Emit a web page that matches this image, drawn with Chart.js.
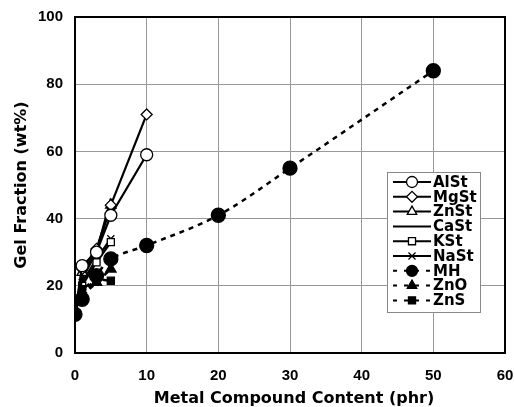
<!DOCTYPE html>
<html>
<head>
<meta charset="utf-8">
<script src="https://cdn.jsdelivr.net/npm/chart.js@4/dist/chart.umd.min.js"></script>
<style>
  html, body { margin: 0; padding: 0; background: #fff; }
  #wrap { width: 514px; height: 407px; }
</style>
</head>
<body>
<div id="wrap"><canvas id="gelChart"></canvas></div>
<script>
// x values (phr)
const xStearate = [0, 1, 3, 5, 10];
const xMH = [0, 1, 3, 5, 10, 20, 30, 50];
const xOxide = [0, 1, 3, 5];

// gel fraction (wt%)
const alSt = [11.5, 26, 30, 41, 59];
const mgSt = [11.5, 25, 31, 44, 71];
const znSt = [11.5, 24, 30, 44];
const caSt = [11.5, 22, 30, 46];
const kSt = [11.5, 20, 27, 33];
const naSt = [11.5, 21, 28, 34];
const mh = [11.5, 16, 23, 28, 32, 41, 55, 84];
const znO = [11.5, 17, 21, 25];
const znS = [11.5, 19, 22, 21.5];

const xTicks = [0, 10, 20, 30, 40, 50, 60];
const yTicks = [0, 20, 40, 60, 80, 100];

const FONT = '"Liberation Sans", Arial, sans-serif';
const TITLE_FONT = '"DejaVu Sans", sans-serif';

function pts(xs, ys) {
    return ys.map((y, i) => ({ x: xs[i], y: y }));
}

function series(label, xs, ys, style, radius, filled, dashed, order) {
    return {
        label: label,
        data: pts(xs, ys),
        order: order,
        borderColor: '#000',
        borderWidth: dashed ? 2.5 : 2.2,
        borderDash: dashed ? [5, 5] : [],
        pointStyle: style,
        pointRadius: radius,
        pointBorderWidth: 1.3,
        pointBorderColor: '#000',
        pointBackgroundColor: filled ? '#000' : '#fff',
        tension: label === 'MH' ? 0.35 : 0,
        fill: false
    };
}

// lower order is drawn on top: filled markers end up over the open ones at the origin
const datasets = [
    series('AlSt', xStearate, alSt, 'circle', 6, false, false, 3),
    series('MgSt', xStearate, mgSt, 'rectRot', 5.5, false, false, 4),
    series('ZnSt', xStearate, znSt, 'triangle', 6, false, false, 5),
    series('CaSt', xStearate, caSt, false, 0, false, false, 6),
    series('KSt', xStearate, kSt, 'rect', 5, false, false, 7),
    series('NaSt', xStearate, naSt, 'crossRot', 5, false, false, 8),
    series('MH', xMH, mh, 'circle', 7, true, true, 2),
    series('ZnO', xOxide, znO, 'triangle', 6, true, true, 1),
    series('ZnS', xOxide, znS, 'rect', 5, true, true, 0)
];

// frame, inside legend and axis titles
const framePlugin = {
    id: 'frame',
    beforeDatasetsDraw(chart) {
        const { ctx, chartArea: a } = chart;
        ctx.save();
        ctx.strokeStyle = '#000';
        ctx.lineWidth = 2;
        ctx.strokeRect(a.left, a.top, a.right - a.left, a.bottom - a.top);
        ctx.restore();
    },
    afterDatasetsDraw(chart) {
        const { ctx, chartArea: a } = chart;
        const bx = 387, by = 172, bw = 93, bh = 140;
        ctx.save();
        ctx.fillStyle = '#fff';
        ctx.fillRect(bx, by, bw, bh);
        ctx.strokeStyle = '#888';
        ctx.lineWidth = 1;
        ctx.strokeRect(bx + 0.5, by + 0.5, bw, bh);
        const rowH = 14.8;
        chart.data.datasets.forEach((ds, i) => {
            const y = by + 10 + i * rowH;
            const x0 = bx + 6, x1 = bx + 44, xm = (x0 + x1) / 2;
            ctx.strokeStyle = '#000';
            ctx.lineWidth = 2;
            ctx.setLineDash(ds.borderDash.length ? [4, 7] : []);
            ctx.beginPath();
            ctx.moveTo(x0, y);
            ctx.lineTo(x1, y);
            ctx.stroke();
            ctx.setLineDash([]);
            if (ds.pointStyle) {
                ctx.fillStyle = ds.pointBackgroundColor;
                ctx.strokeStyle = '#000';
                ctx.lineWidth = 1.3;
                Chart.helpers.drawPoint(ctx, {
                    pointStyle: ds.pointStyle,
                    radius: Math.min(ds.pointRadius, 5.5),
                    borderWidth: 1.3
                }, xm, y);
            }
            ctx.fillStyle = '#000';
            ctx.font = 'bold 15px ' + TITLE_FONT;
            ctx.textBaseline = 'middle';
            ctx.textAlign = 'left';
            ctx.fillText(ds.label, x1 + 2, y + 1);
        });

        // axis titles
        ctx.font = 'bold 16px ' + TITLE_FONT;
        ctx.textAlign = 'center';
        ctx.textBaseline = 'middle';
        ctx.fillText('Metal Compound Content (phr)', 294, 399);
        ctx.translate(22, (a.top + a.bottom) / 2);
        ctx.rotate(-Math.PI / 2);
        ctx.fillText('Gel Fraction (wt%)', 0, 0);
        ctx.restore();
    }
};

new Chart(document.getElementById('gelChart'), {
    type: 'line',
    data: { datasets: datasets },
    options: {
        responsive: true,
        maintainAspectRatio: false,
        animation: false,
        layout: { padding: { top: 17, right: 9, left: 0, bottom: 0 } },
        plugins: {
            legend: { display: false },
            tooltip: { enabled: false }
        },
        scales: {
            x: {
                type: 'linear',
                min: 0,
                max: 60,
                afterBuildTicks: (s) => { s.ticks = xTicks.map(v => ({ value: v })); },
                afterFit: (s) => {
                    s.height = 54;
                    s.paddingLeft = 0;
                    s.paddingRight = 0;
                },
                grid: { color: '#999', lineWidth: 1, drawTicks: false },
                border: { color: '#000', width: 2 },
                ticks: {
                    color: '#000',
                    padding: 14,
                    font: { family: FONT, size: 15, weight: 'bold' }
                }
            },
            y: {
                min: 0,
                max: 100,
                afterBuildTicks: (s) => { s.ticks = yTicks.map(v => ({ value: v })); },
                afterFit: (s) => {
                    s.width = 75;
                    s.paddingTop = 0;
                    s.paddingBottom = 0;
                },
                grid: { color: '#999', lineWidth: 1, drawTicks: false },
                border: { color: '#000', width: 2 },
                ticks: {
                    color: '#000',
                    padding: 12,
                    font: { family: FONT, size: 15, weight: 'bold' }
                }
            }
        }
    },
    plugins: [framePlugin]
});
</script>
</body>
</html>
